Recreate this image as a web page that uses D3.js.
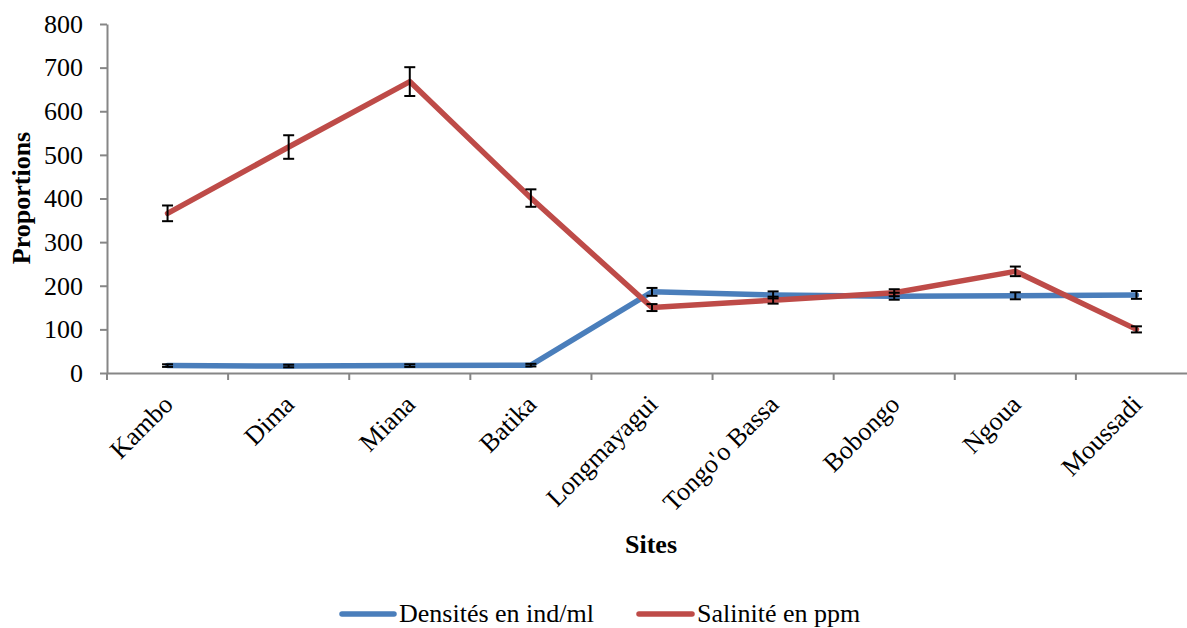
<!DOCTYPE html>
<html><head><meta charset="utf-8">
<script src="https://cdn.jsdelivr.net/npm/d3@7"></script>
<style>body{margin:0;background:#fff}svg{display:block}</style>
</head><body>
<script>
const sites = ["Kambo","Dima","Miana","Batika","Longmayagui","Tongo'o Bassa","Bobongo","Ngoua","Moussadi"];
const densites = [17,16,17,18,186,179,176,177,179];
const densitesErr = [3,3,3,3,9,8,8,8,9];
const salinite = [366,518,668,401,150,167,184,233,100];
const saliniteErr = [18,27,33,20,8,8,8,11,7];
const yTicks = [0,100,200,300,400,500,600,700,800];
const seriesNames = ["Densités en ind/ml","Salinité en ppm"];
const colors = ["#4a7ebb","#be4b48"];

const W=1187,H=628;
const svg=d3.select("body").append("svg").attr("width",W).attr("height",H);
const font="Liberation Serif, Times New Roman, serif";
const fs=26;
const mLeft=107, mRight=1197, mTop=24, mBottom=373;
const x=d3.scaleBand().domain(sites).range([mLeft,mRight]);
const y=d3.scaleLinear().domain([0,800]).range([mBottom,mTop]);
const axisColor="#868686";

// y axis
const ya=svg.append("g").attr("transform",`translate(${mLeft},0)`)
  .call(d3.axisLeft(y).tickValues(yTicks).tickSizeOuter(0).tickSizeInner(7).tickPadding(17));
ya.select(".domain").attr("stroke",axisColor).attr("stroke-width",2);
ya.selectAll(".tick line").attr("stroke",axisColor).attr("stroke-width",2);
ya.selectAll(".tick text").attr("font-family",font).attr("font-size",fs).attr("fill","#000");

// x axis
const xa=svg.append("g").attr("transform",`translate(0,${mBottom})`)
  .call(d3.axisBottom(x).tickSize(0).tickSizeOuter(0).tickFormat(""));
xa.select(".domain").attr("stroke",axisColor).attr("stroke-width",2);
xa.selectAll(".tick").remove();
const bounds=[...sites.map(s=>x(s)),mRight];
xa.selectAll(".bt").data(bounds).enter().append("line")
  .attr("x1",d=>d).attr("x2",d=>d).attr("y1",0).attr("y2",7)
  .attr("stroke",axisColor).attr("stroke-width",2);
svg.append("g").selectAll("text").data(sites).enter().append("text")
  .attr("transform",d=>`translate(${x(d)+x.bandwidth()/2+7},${mBottom+33}) rotate(-45)`)
  .attr("text-anchor","end").attr("font-family",font).attr("font-size",fs).attr("fill","#000")
  .text(d=>d);

// titles
svg.append("text").attr("transform",`translate(30,198) rotate(-90)`).attr("text-anchor","middle")
  .attr("font-family",font).attr("font-size",fs).attr("font-weight","bold").text("Proportions");
svg.append("text").attr("x",651).attr("y",553).attr("text-anchor","middle")
  .attr("font-family",font).attr("font-size",fs).attr("font-weight","bold").text("Sites");

const cx=d=>x(d)+x.bandwidth()/2;
const line=d3.line().x((d,i)=>cx(sites[i])).y(d=>y(d));
const allSeries=[[densites,densitesErr],[salinite,saliniteErr]];
allSeries.forEach(([vals,errs],k)=>{
  svg.append("path").datum(vals).attr("d",line).attr("fill","none")
    .attr("stroke",colors[k]).attr("stroke-width",5.5).attr("stroke-linejoin","round").attr("stroke-linecap","round");
});
allSeries.forEach(([vals,errs],k)=>{
  const g=svg.append("g").attr("stroke","#000").attr("stroke-width",2);
  vals.forEach((v,i)=>{
    const xc=cx(sites[i]);
    g.append("line").attr("x1",xc).attr("x2",xc).attr("y1",y(v-errs[i])).attr("y2",y(v+errs[i]));
    [v-errs[i],v+errs[i]].forEach(e=>g.append("line").attr("x1",xc-5.5).attr("x2",xc+5.5).attr("y1",y(e)).attr("y2",y(e)));
  });
});

// legend
const leg=[{x:342,tx:399},{x:639,tx:697}];
seriesNames.forEach((n,k)=>{
  svg.append("line").attr("x1",leg[k].x).attr("x2",leg[k].tx-5).attr("y1",614).attr("y2",614)
    .attr("stroke",colors[k]).attr("stroke-width",5.5).attr("stroke-linecap","round");
  svg.append("text").attr("x",leg[k].tx).attr("y",622).attr("font-family",font).attr("font-size",fs)
    .attr("fill","#000").text(n);
});
</script>
</body></html>
